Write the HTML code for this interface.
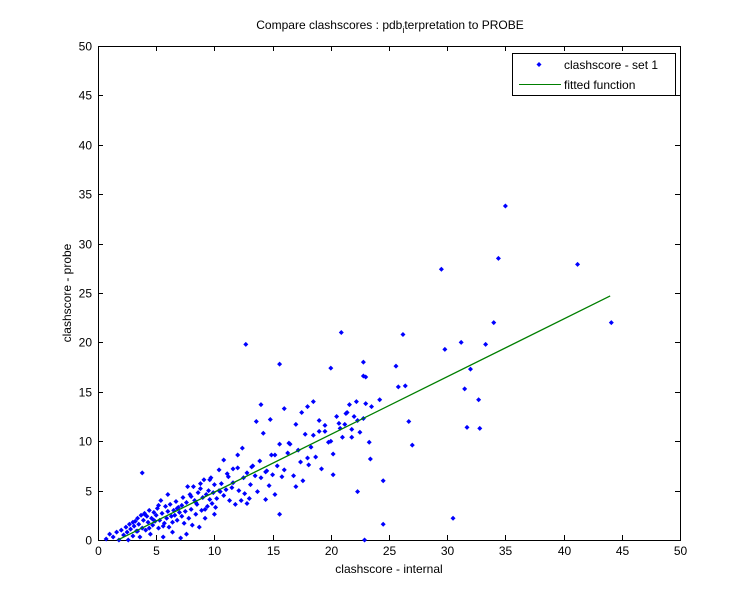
<!DOCTYPE html>
<html><head><meta charset="utf-8"><style>
body{margin:0;background:#fff;width:751px;height:607px;overflow:hidden}
svg text{font-family:"Liberation Sans",sans-serif;font-size:12px;fill:#000}
</style></head><body>
<svg id="chart" width="751" height="607">
<rect x="0" y="0" width="751" height="607" fill="#fff"/>
</svg>
<script>
const clusterX=[0.7,1.0,1.3,1.6,1.8,2.0,2.2,2.4,2.5,2.7,
2.8,3.0,3.1,3.2,3.3,3.4,3.5,3.6,3.7,3.8,
3.9,4.0,4.1,4.2,4.3,4.4,4.5,4.6,4.7,4.8,
4.9,5.0,5.1,5.2,5.3,5.4,5.5,5.6,5.7,5.8,
5.9,6.0,6.1,6.2,6.3,6.4,6.5,6.6,6.7,6.8,
6.9,7.0,7.1,7.2,7.3,7.4,7.5,7.6,7.7,7.8,
7.9,8.0,8.1,8.2,8.3,8.4,8.5,8.6,8.7,8.8,
8.9,9.0,9.1,9.2,9.3,9.4,9.5,9.6,9.7,9.8,
9.9,10.0,10.1,10.2,10.4,10.5,10.6,10.8,11.0,11.1,
11.3,11.5,11.6,11.8,12.0,12.1,12.3,12.5,12.6,12.8,
13.0,13.1,13.3,13.5,13.7,13.9,14.0,14.2,14.4,14.5,
14.7,14.9,15.0,15.2,15.4,15.6,15.8,16.0,16.3,16.5,
16.8,17.0,17.2,17.4,17.6,17.8,18.0,18.1,18.3,18.5,
18.7,19.0,19.2,19.5,19.8,20.0,20.2,20.5,20.7,21.0,
21.2,21.4,21.6,21.8,22.0,22.2,22.5,22.8,23.0,23.3];
const clusterY=[0.1,0.6,0.3,0.8,0.0,1.0,0.5,1.3,0.8,1.6,
1.1,0.4,1.4,1.9,0.9,2.2,1.6,0.3,2.5,1.2,
2.0,2.7,1.0,2.4,1.8,3.0,0.6,2.2,1.5,2.8,
1.9,2.5,3.2,1.2,2.0,4.0,2.7,0.3,1.7,3.4,
2.2,2.9,1.3,3.6,2.4,1.8,3.0,2.5,3.9,2.0,
3.3,2.8,0.2,3.5,4.3,1.7,2.9,3.8,5.4,2.2,
4.6,3.1,1.5,5.4,4.0,2.6,3.6,4.8,1.3,5.2,
3.0,4.3,6.1,2.2,4.6,3.4,5.0,4.1,6.3,3.7,
4.8,5.6,3.3,4.2,7.1,4.9,5.7,4.5,5.1,6.7,
4.0,5.3,5.8,3.6,7.3,5.0,4.0,6.3,4.7,6.8,
4.2,5.6,7.5,6.5,4.9,8.0,6.3,10.8,4.1,7.0,
5.5,8.6,6.6,4.6,7.5,9.7,6.4,7.1,8.8,9.7,
6.5,5.4,9.1,7.9,6.0,10.7,8.3,7.6,9.4,10.6,
8.4,11.0,7.2,11.0,9.9,10.0,8.7,12.5,11.8,10.4,
11.7,12.9,13.7,11.2,12.5,14.0,10.9,12.3,13.8,9.9];
const outlierX=[3.8,12.7,15.6,15.6,20.9,20.0,22.8,22.9,23.0,23.4,
22.3,24.5,24.5,25.6,26.2,26.4,25.8,27.0,26.7,29.5,
29.8,30.5,31.2,31.5,31.7,32.0,32.7,32.8,33.3,34.0,
34.4,35.0,41.2,44.1];
const outlierY=[6.8,19.8,17.8,2.6,21.0,17.4,18.0,0.0,16.5,8.2,
4.9,6.0,1.6,17.6,20.8,15.6,15.5,9.6,12.0,27.4,
19.3,2.2,20.0,15.3,11.4,17.3,14.2,11.3,19.8,22.0,
28.5,33.8,27.9,22.0];
const extraX=[2.6,3.0,3.4,4.0,4.4,4.8,5.2,5.6,6.0,6.4,
6.8,7.2,7.6,8.0,8.4,8.8,9.2,9.6,10.0,10.4,
10.8,11.2,11.6,12.0,12.4,12.8,13.2,13.6,14.0,14.4,
14.8,15.2,16.0,16.4,17.0,17.5,18.0,18.5,19.0,19.5,
20.2,20.8,21.3,21.8,22.3,22.8,23.5,24.2];
const extraY=[0.0,1.8,0.9,2.6,1.2,2.0,3.5,1.4,4.6,0.8,
3.2,2.4,0.6,4.4,3.8,5.7,3.1,6.1,2.6,5.0,
8.1,6.4,7.2,8.6,9.3,3.7,7.4,12.0,13.7,6.9,
12.2,8.6,13.3,9.8,11.7,12.9,13.5,14.0,12.1,11.6,
6.6,11.3,12.8,10.4,12.1,16.6,13.5,14.2];
const fitX=[1.7,44.0];
const fitY=[0.0,24.7];
const xTicks=[0,5,10,15,20,25,30,35,40,45,50];
const yTicks=[0,5,10,15,20,25,30,35,40,45,50];
const L=98,R=680,T=46,B=540;
const sx=v=>L+(R-L)*v/50, sy=v=>B-(B-T)*v/50;
const svg=document.getElementById('chart');
const NS='http://www.w3.org/2000/svg';
function mk(t,a){const e=document.createElementNS(NS,t);for(const k in a)e.setAttribute(k,a[k]);svg.appendChild(e);return e;}
let f=mk('rect',{x:L+0.5,y:T+0.5,width:R-L,height:B-T,fill:'#fff',stroke:'#000','stroke-width':1});


xTicks.forEach(v=>{const x=Math.round(sx(v))+0.5;
 let l=mk('line',{x1:x,y1:B,x2:x,y2:B-5,stroke:'#000'});
 
 
 let l2=mk('line',{x1:x,y1:T,x2:x,y2:T+5,stroke:'#000'});
 
 
 let t=mk('text',{x:x,y:B+15,'text-anchor':'middle'});t.textContent=v;
 
 });
yTicks.forEach(v=>{const y=Math.round(sy(v))+0.5;
 let l=mk('line',{x1:L,y1:y,x2:L+5,y2:y,stroke:'#000'});
 
 
 let l2=mk('line',{x1:R,y1:y,x2:R-5,y2:y,stroke:'#000'});
 
 
 let t=mk('text',{x:L-6,y:y+4,'text-anchor':'end'});t.textContent=v;
 
 });
function drawPts(X,Y){X.forEach((v,i)=>{const x=sx(v),y=sy(Y[i]);
 let p=mk('path',{d:`M${x} ${y-2.5}L${x+2.5} ${y}L${x} ${y+2.5}L${x-2.5} ${y}Z`,fill:'#0000ff'});
 
 });}
drawPts(clusterX,clusterY);
drawPts(outlierX,outlierY);
drawPts(extraX,extraY);
let fl=mk('line',{x1:sx(fitX[0]),y1:sy(fitY[0]),x2:sx(fitX[1]),y2:sy(fitY[1]),stroke:'#007f00','stroke-width':1.3});


</script>
<svg style="position:absolute;left:0;top:0" width="751" height="607">
<text x="390" y="29" text-anchor="middle">Compare clashscores : pdb<tspan font-size="9" dy="4">i</tspan><tspan dy="-4">terpretation to PROBE</tspan></text>
<text x="389" y="573" text-anchor="middle">clashscore - internal</text>
<text x="0" y="0" text-anchor="middle" transform="translate(71,293) rotate(-90)">clashscore - probe</text>
<g>
<rect x="512.5" y="53.5" width="163" height="42" fill="#fff" stroke="#000"/>
<path d="M539 62L541.5 64.5L539 67L536.5 64.5Z" fill="#0000ff"/>
<text x="564" y="69">clashscore - set 1</text>
<line x1="519" y1="84.5" x2="561" y2="84.5" stroke="#007f00"/>
<text x="564" y="89">fitted function</text>
</g>
</svg>
</body></html>
